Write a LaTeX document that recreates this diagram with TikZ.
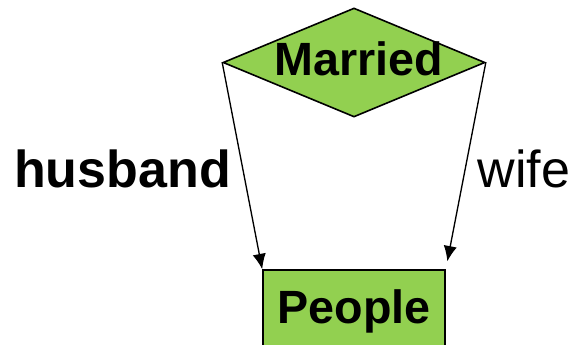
\documentclass[tikz,border=0pt]{standalone}
\usepackage{fontspec}
\setmainfont{Liberation Sans}
\usetikzlibrary{shapes.geometric,arrows.meta}
\definecolor{entgreen}{HTML}{92D050}
\tikzset{
  relation/.style={diamond, draw, fill=entgreen, line width=1.2pt, inner sep=0pt,
    minimum width=196.5pt, minimum height=81.75pt},
  entity/.style={rectangle, draw, fill=entgreen, line width=1.2pt,
    minimum width=136.5pt, minimum height=61.5pt,
    font=\fontsize{35}{42}\selectfont\bfseries},
  role/.style={font=\fontsize{39}{47}\selectfont, inner sep=0pt, anchor=base},
  link/.style={line width=1pt, -{Latex[length=11.5pt,width=10pt]}}
}
\begin{document}
\begin{tikzpicture}[x=0.75pt,y=-0.75pt]
    \useasboundingbox (0,0) rectangle (573,344);
    % relationship and entity
    \node[relation, label={[font=\fontsize{35}{42}\selectfont\bfseries,xshift=3.5pt,yshift=3pt]center:Married}] (married) at (354,62.5) {};
    \node[entity] (people) at (354,311) {People};
    % roles
    \draw[link] (married.west) -- (people.north west);
    \draw[link, shorten >=6pt] (married.east) -- (people.north east);
    \node[role, font=\fontsize{39}{47}\selectfont\bfseries] (husband) at (122.5,187) {husband};
    \node[role] (wife) at (524,187) {wife};
\end{tikzpicture}
\end{document}
